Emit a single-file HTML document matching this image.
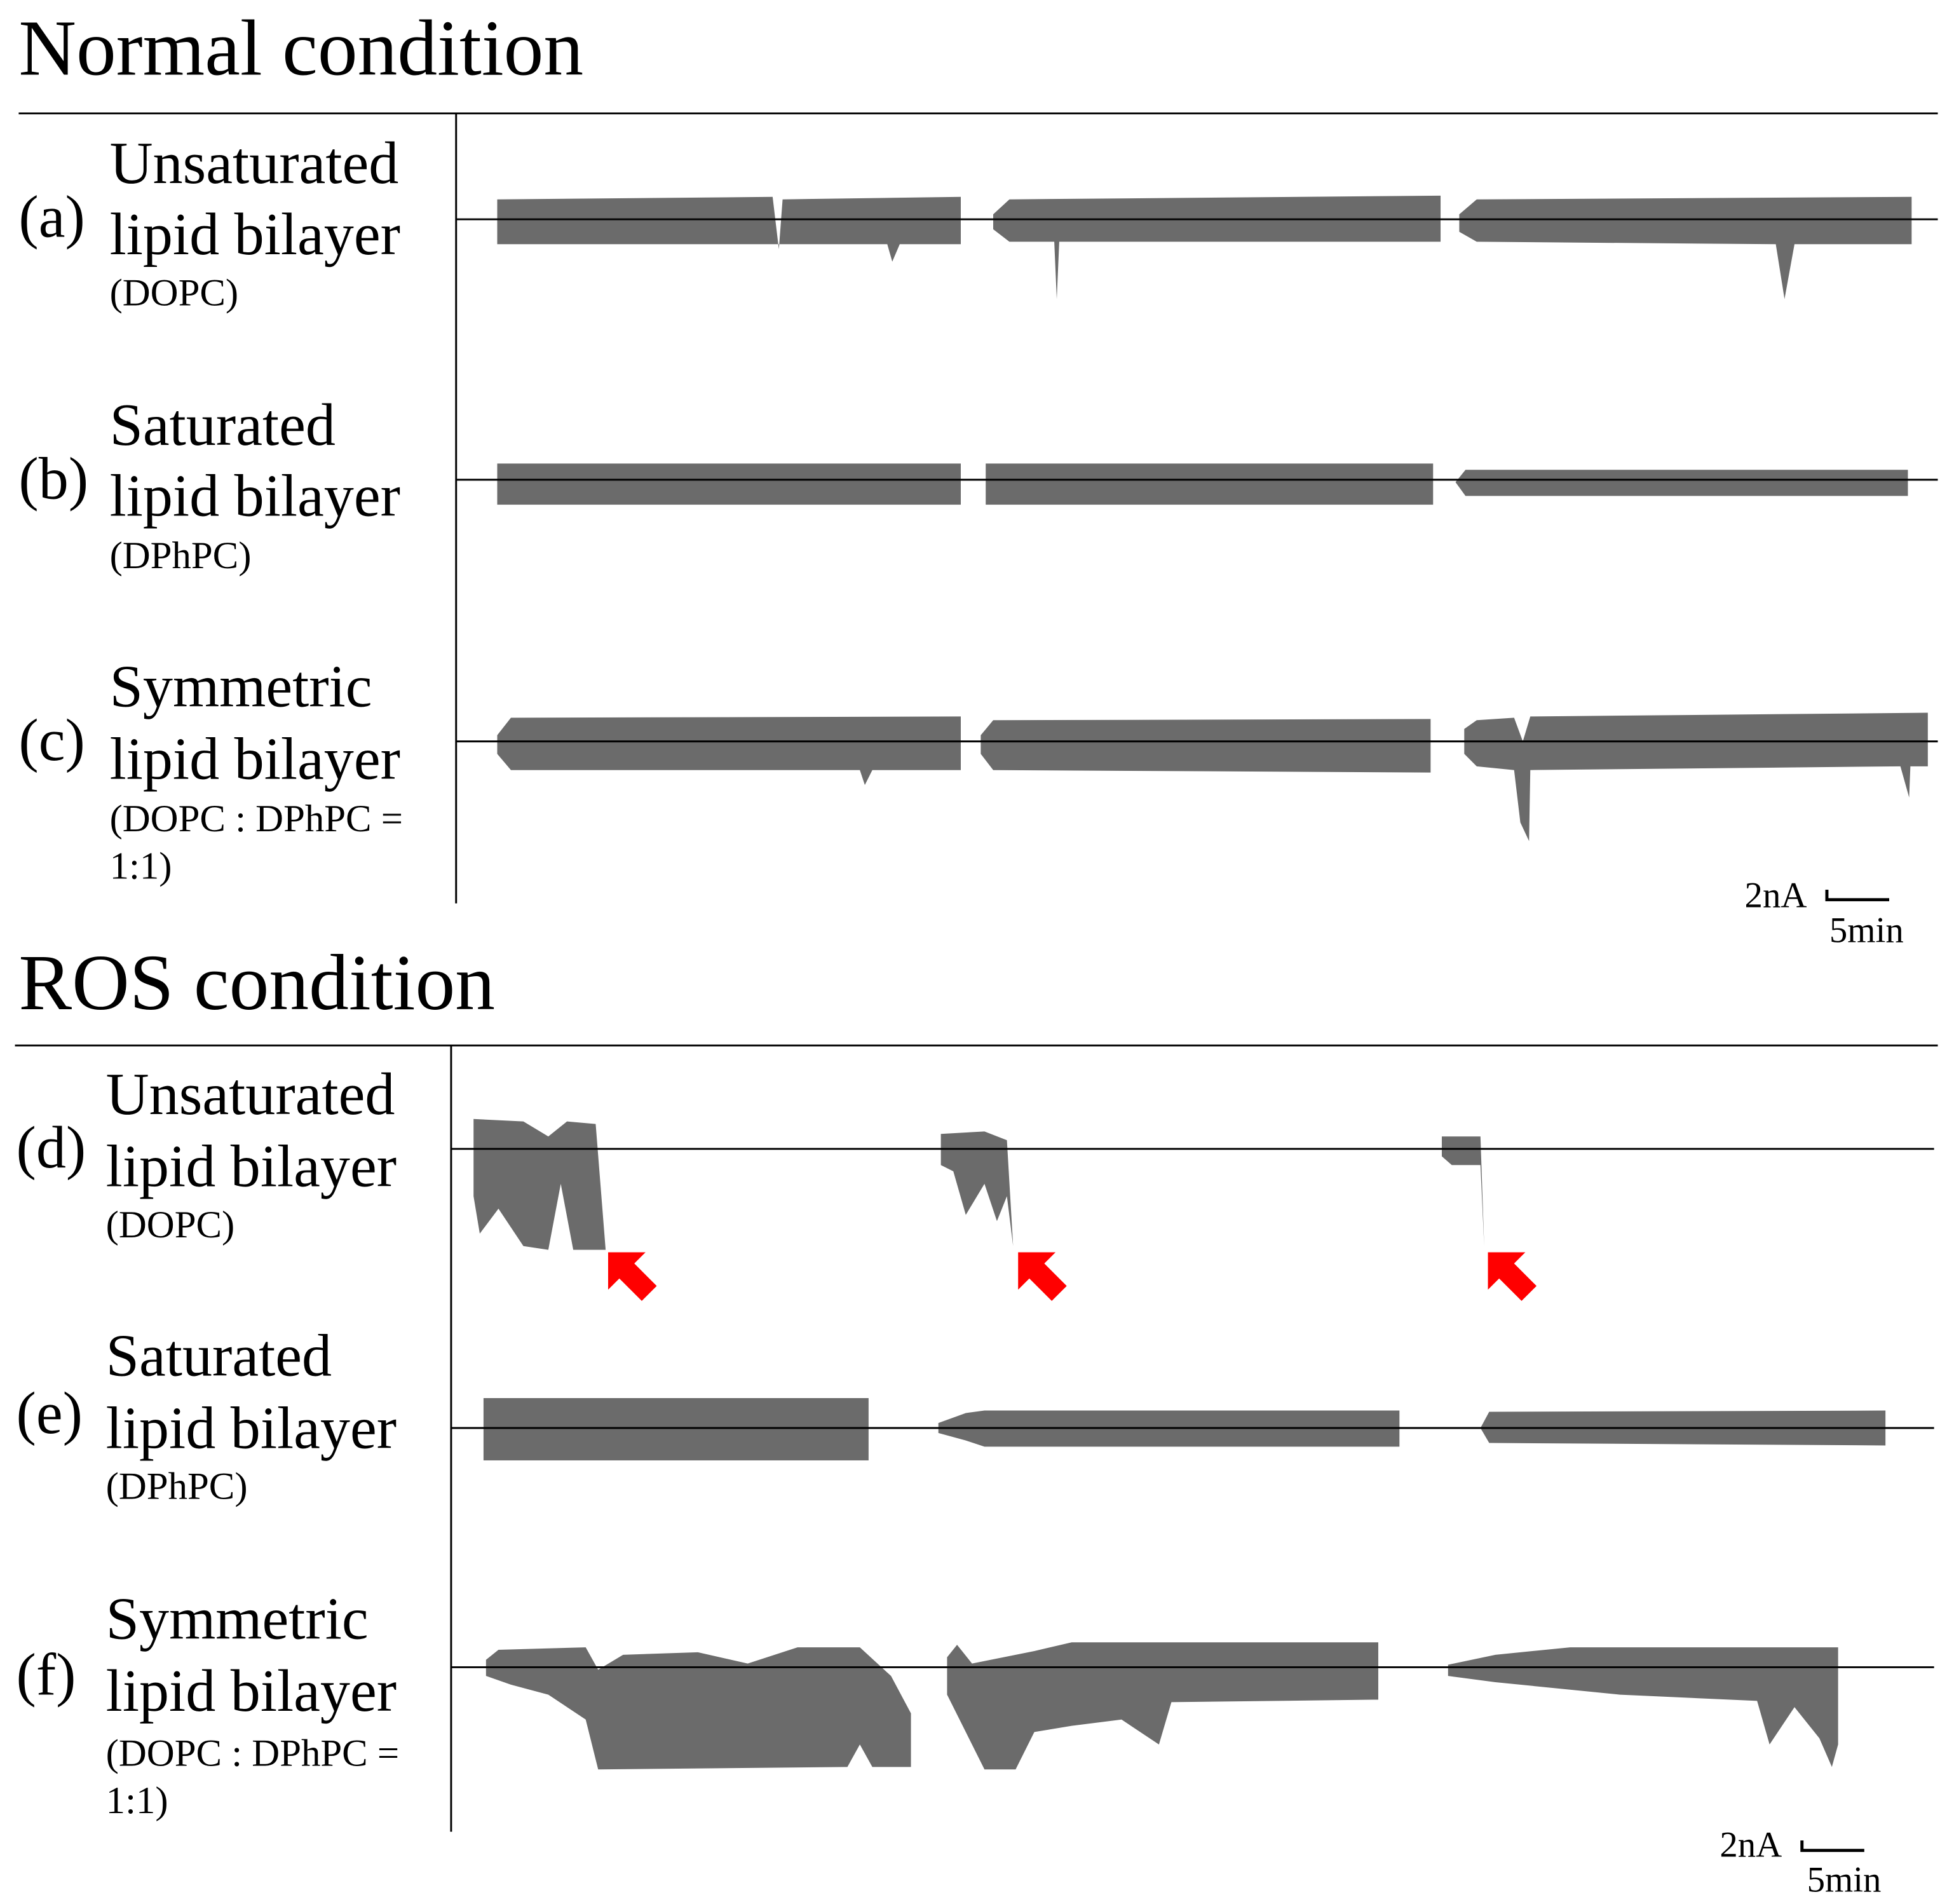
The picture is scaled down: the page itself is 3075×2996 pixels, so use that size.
<!DOCTYPE html>
<html><head><meta charset="utf-8"><style>
html,body{margin:0;padding:0;background:#fff;}
svg{display:block;}
text{font-family:"Liberation Serif",serif;fill:#000;}
.t{font-size:64px;}
.m{font-size:48px;}
.s{font-size:31px;}
.sc{font-size:29px;}
</style></head><body>
<svg width="3075" height="2996" viewBox="0 0 1568 1528" preserveAspectRatio="none" xmlns="http://www.w3.org/2000/svg">
<g fill="#6b6b6b">
<path d="M399,160 L620,158 L625,200 L628,160 L771,158 L771,196 L722,196 L716,210 L712,196 L399,196 Z"/>
<path d="M797,172 L810,160 L1156,157 L1156,194 L850,194 L848,240 L846,194 L810,194 L797,184 Z"/>
<path d="M1171,172 L1185,160 L1534,158 L1534,196 L1440,196 L1432,240 L1425,196 L1185,194 L1171,186 Z"/>
<rect x="399" y="372" width="372" height="33"/>
<rect x="791" y="372" width="359" height="33"/>
<path d="M1168,387 L1176,377 L1531,377 L1531,398 L1176,398 Z"/>
<path d="M399,590 L410,576 L771,575 L771,618 L700,618 L694,630 L690,618 L410,618 L399,605 Z"/>
<path d="M787,590 L797,578 L1148,577 L1148,620 L797,618 L787,605 Z"/>
<path d="M1175,585 L1185,578 L1215,576 L1222,595 L1228,575 L1547,572 L1547,615 L1533,615 L1532,640 L1525,615 L1228,618 L1227,675 L1220,660 L1215,618 L1185,615 L1175,605 Z"/>
<path d="M380,898 L420,900 L440,912 L455,900 L478,902 L486,1003 L460,1003 L450,950 L440,1003 L420,1000 L400,970 L385,990 L380,960 Z"/>
<path d="M755,910 L790,908 L808,915 L813,1000 L808,960 L800,980 L790,950 L775,975 L765,940 L755,935 Z"/>
<path d="M1157,912 L1188,912 L1191,1000 L1188,935 L1165,935 L1157,928 Z"/>
<rect x="388" y="1122" width="309" height="50"/>
<path d="M753,1142 L775,1134 L790,1132 L1123,1132 L1123,1161 L790,1161 L775,1156 L753,1150 Z"/>
<path d="M1188,1146 L1195,1133 L1513,1132 L1513,1160 L1195,1158 Z"/>
<path d="M390,1332 L400,1324 L470,1322 L480,1340 L500,1328 L560,1326 L600,1335 L640,1322 L690,1322 L715,1345 L731,1375 L731,1418 L700,1418 L690,1400 L680,1418 L480,1420 L470,1380 L440,1360 L410,1352 L390,1345 Z"/>
<path d="M760,1330 L768,1320 L780,1335 L830,1325 L860,1318 L1106,1318 L1106,1364 L940,1366 L930,1400 L900,1380 L860,1385 L830,1390 L815,1420 L790,1420 L775,1390 L760,1360 Z"/>
<path d="M1162,1336 L1200,1328 L1260,1322 L1475,1322 L1475,1400 L1470,1418 L1460,1395 L1440,1370 L1420,1400 L1410,1365 L1300,1360 L1200,1350 L1162,1345 Z"/>
</g>
<g fill="#ff0000">
<polygon points="488,1005 488,1035 497,1026 515,1044 527,1032 509,1014 518,1005"/>
<polygon points="817,1005 817,1035 826,1026 844,1044 856,1032 838,1014 847,1005"/>
<polygon points="1194,1005 1194,1035 1203,1026 1221,1044 1233,1032 1215,1014 1224,1005"/>
</g>
<g stroke="#000" stroke-width="1.5" fill="none">
<line x1="15" y1="91" x2="1555" y2="91"/>
<line x1="366" y1="91" x2="366" y2="725"/>
<line x1="366" y1="176" x2="1555" y2="176"/>
<line x1="366" y1="385" x2="1555" y2="385"/>
<line x1="366" y1="595" x2="1555" y2="595"/>
<line x1="12" y1="839" x2="1555" y2="839"/>
<line x1="362" y1="839" x2="362" y2="1470"/>
<line x1="362" y1="922" x2="1552" y2="922"/>
<line x1="362" y1="1146" x2="1552" y2="1146"/>
<line x1="362" y1="1338" x2="1552" y2="1338"/>
<polyline points="1466,714 1466,722 1516,722" stroke-width="2.5"/>
<polyline points="1446,1477 1446,1485 1496,1485" stroke-width="2.5"/>
</g>
<text class="t" x="15" y="60">Normal condition</text>
<text class="t" x="15" y="810">ROS condition</text>
<text class="m" x="15" y="190">(a)</text>
<text class="m" x="88" y="147">Unsaturated</text>
<text class="m" x="88" y="204">lipid bilayer</text>
<text class="s" x="88" y="245">(DOPC)</text>
<text class="m" x="15" y="400">(b)</text>
<text class="m" x="88" y="357">Saturated</text>
<text class="m" x="88" y="414">lipid bilayer</text>
<text class="s" x="88" y="456">(DPhPC)</text>
<text class="m" x="15" y="610">(c)</text>
<text class="m" x="88" y="567">Symmetric</text>
<text class="m" x="88" y="625">lipid bilayer</text>
<text class="s" x="88" y="667">(DOPC : DPhPC =</text>
<text class="s" x="88" y="705">1:1)</text>
<text class="m" x="13" y="937">(d)</text>
<text class="m" x="85" y="894">Unsaturated</text>
<text class="m" x="85" y="952">lipid bilayer</text>
<text class="s" x="85" y="993">(DOPC)</text>
<text class="m" x="13" y="1150">(e)</text>
<text class="m" x="85" y="1104">Saturated</text>
<text class="m" x="85" y="1162">lipid bilayer</text>
<text class="s" x="85" y="1203">(DPhPC)</text>
<text class="m" x="13" y="1360">(f)</text>
<text class="m" x="85" y="1315">Symmetric</text>
<text class="m" x="85" y="1373">lipid bilayer</text>
<text class="s" x="85" y="1417">(DOPC : DPhPC =</text>
<text class="s" x="85" y="1455">1:1)</text>
<text class="sc" x="1400" y="728">2nA</text>
<text class="sc" x="1468" y="756">5min</text>
<text class="sc" x="1380" y="1490">2nA</text>
<text class="sc" x="1450" y="1518">5min</text>
</svg>
</body></html>
